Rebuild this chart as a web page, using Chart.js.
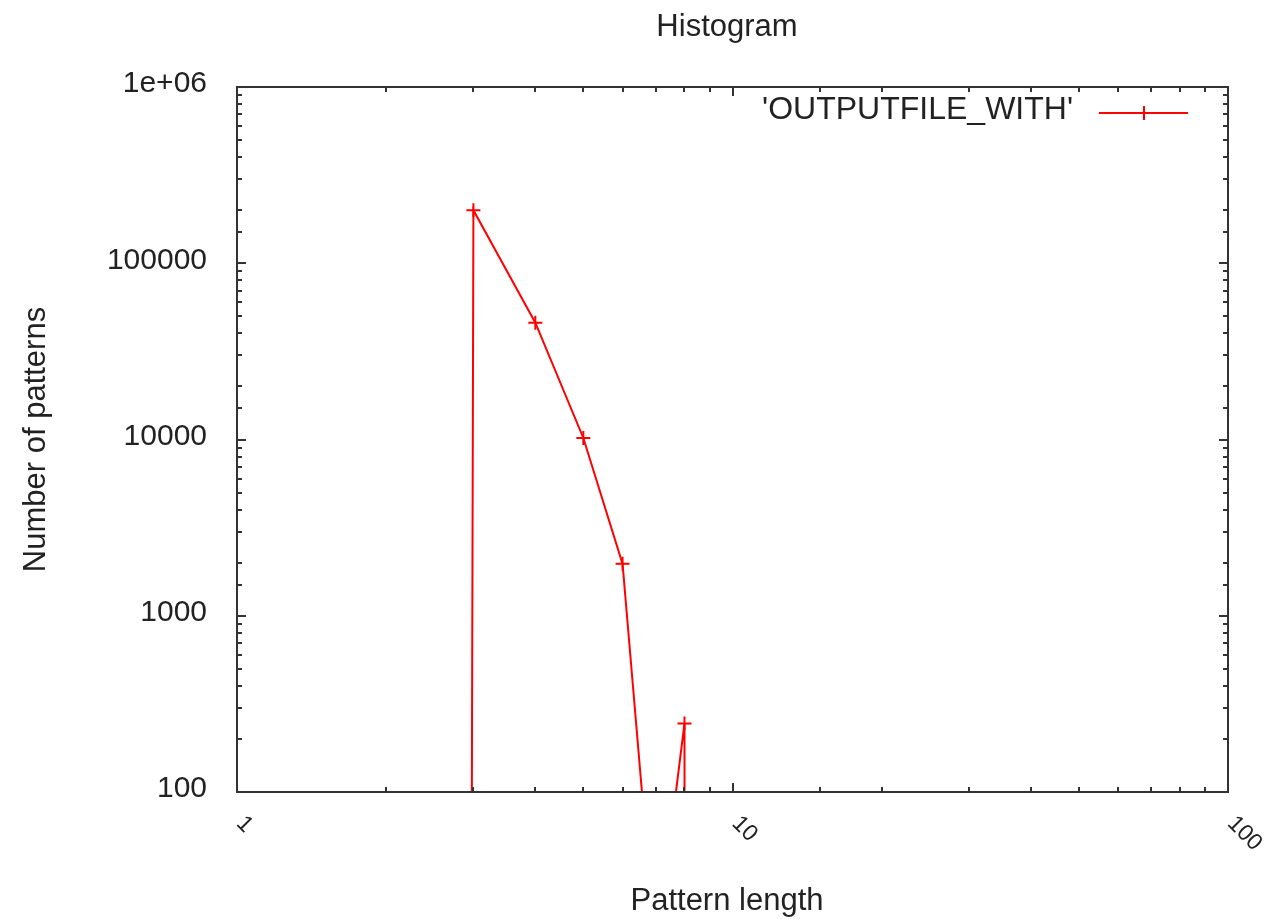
<!DOCTYPE html>
<html>
<head>
<meta charset="utf-8">
<title>Histogram</title>
<script src="https://cdn.jsdelivr.net/npm/chart.js@4/dist/chart.umd.min.js"></script>
<style>
  html, body { margin: 0; padding: 0; background: #fff; }
  #wrap { width: 1272px; height: 919px; position: relative; }
</style>
</head>
<body>
<div id="wrap"><canvas id="hist"></canvas></div>
<script>
// data (log-log)
const patternLengths = [1, 2, 3, 4, 5, 6, 7, 8, 9];
const patternCounts = [0, 0, 200000, 46000, 10200, 1970, 12, 245, 0];
const xTickValues = [1, 10, 100];
const xTickLabels = ["1", "10", "100"];
const yTickValues = [100, 1000, 10000, 100000, 1000000];
const yTickLabels = ["100", "1000", "10000", "100000", "1e+06"];
const seriesLabel = "'OUTPUTFILE_WITH'";

const RED = "#ff0000";
const INK = "#222222";
const FONT = "'Liberation Sans', Arial, sans-serif";

// gnuplot sends log(0) to -inf, so the line drops straight down to the axis
const LOG_FLOOR = Number.MIN_VALUE;
const points = patternLengths.map((x, i) => ({ x, y: patternCounts[i] > 0 ? patternCounts[i] : LOG_FLOOR }));

function isDecade(v) {
  const l = Math.log10(v);
  return Math.abs(l - Math.round(l)) < 1e-9;
}

// frame, inward ticks on all four sides, labels, legend - gnuplot style
const gnuplotFrame = {
  id: "gnuplotFrame",
  afterDatasetsDraw(chart) {
    const { ctx, chartArea: a, scales: { x, y } } = chart;
    ctx.save();
    ctx.strokeStyle = "#333";
    ctx.lineWidth = 2;
    ctx.strokeRect(a.left, a.top, a.right - a.left, a.bottom - a.top);

    ctx.beginPath();
    x.ticks.forEach(t => {
      const px = Math.round(x.getPixelForValue(t.value));
      const len = isDecade(t.value) ? 9 : 5;
      ctx.moveTo(px, a.bottom); ctx.lineTo(px, a.bottom - len);
      ctx.moveTo(px, a.top); ctx.lineTo(px, a.top + len);
    });
    y.ticks.forEach(t => {
      const py = Math.round(y.getPixelForValue(t.value));
      const len = isDecade(t.value) ? 9 : 5;
      ctx.moveTo(a.left, py); ctx.lineTo(a.left + len, py);
      ctx.moveTo(a.right, py); ctx.lineTo(a.right - len, py);
    });
    ctx.stroke();

    ctx.fillStyle = INK;
    ctx.font = "30px " + FONT;

    // y tick labels
    ctx.textAlign = "right";
    ctx.textBaseline = "middle";
    yTickValues.forEach((v, i) => {
      ctx.fillText(yTickLabels[i], a.left - 30, y.getPixelForValue(v) - 3);
    });

    // x tick labels, rotated by -45 (reads down to the right)
    ctx.font = "23px " + FONT;
    ctx.textAlign = "left";
    ctx.textBaseline = "middle";
    xTickValues.forEach((v, i) => {
      ctx.save();
      ctx.translate(x.getPixelForValue(v) + 3, a.bottom + 28);
      ctx.rotate(Math.PI / 4);
      ctx.fillText(xTickLabels[i], 0, 0);
      ctx.restore();
    });

    // title and axis titles
    ctx.font = "31px " + FONT;
    ctx.textAlign = "center";
    ctx.textBaseline = "alphabetic";
    ctx.fillText("Histogram", 727, 36);
    ctx.fillText("Pattern length", 727, 910);
    ctx.save();
    ctx.translate(45, (a.top + a.bottom) / 2);
    ctx.rotate(-Math.PI / 2);
    ctx.fillText("Number of patterns", 0, 0);
    ctx.restore();

    // legend
    ctx.font = "32px " + FONT;
    ctx.textAlign = "right";
    ctx.textBaseline = "middle";
    ctx.fillText(seriesLabel, 1073, 110);
    ctx.strokeStyle = RED;
    ctx.lineWidth = 2;
    ctx.beginPath();
    ctx.moveTo(1099, 113); ctx.lineTo(1188, 113);
    ctx.moveTo(1144, 106); ctx.lineTo(1144, 120);
    ctx.moveTo(1137, 113); ctx.lineTo(1151, 113);
    ctx.stroke();
    ctx.restore();
  }
};

new Chart(document.getElementById("hist"), {
  type: "line",
  data: {
    datasets: [{
      label: seriesLabel,
      data: points,
      borderColor: RED,
      backgroundColor: RED,
      borderWidth: 2,
      tension: 0,
      fill: false,
      pointStyle: "cross",
      pointRadius: 7,
      pointBorderWidth: 2,
      pointBorderColor: RED
    }]
  },
  options: {
    responsive: true,
    maintainAspectRatio: false,
    animation: false,
    layout: { padding: { left: 237, top: 87, right: 44, bottom: 127 } },
    plugins: {
      legend: { display: false },
      title: { display: false },
      tooltip: { enabled: false }
    },
    scales: {
      x: { type: "logarithmic", min: 1, max: 100, display: false },
      y: { type: "logarithmic", min: 100, max: 1000000, display: false }
    }
  },
  plugins: [gnuplotFrame]
});
</script>
</body>
</html>
